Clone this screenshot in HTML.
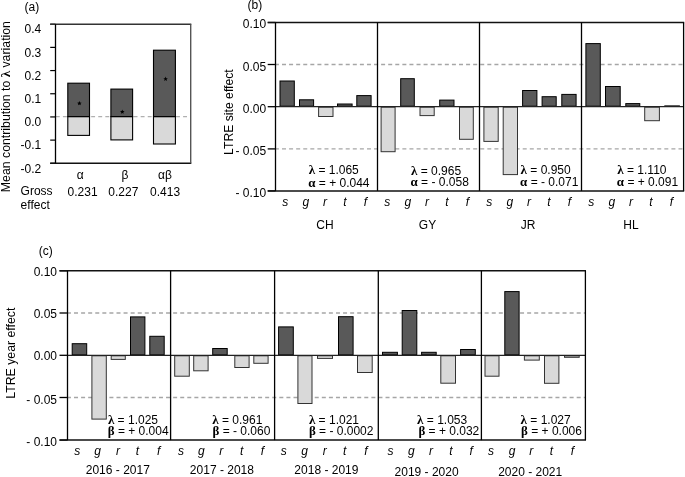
<!DOCTYPE html>
<html><head><meta charset="utf-8"><style>
html,body{margin:0;padding:0;background:#fff;}
svg{display:block;will-change:transform;}
text{font-family:"Liberation Sans", sans-serif;fill:#000;}
</style></head><body>
<svg width="685" height="477" viewBox="0 0 685 477">
<rect width="685" height="477" fill="#fff"/>
<text x="24.5" y="11" font-size="12" text-anchor="start" >(a)</text>
<line x1="50.2" y1="24.2" x2="55.5" y2="24.2" stroke="#000" stroke-width="1.2" />
<text x="41.2" y="33.4" font-size="12" text-anchor="end" >0.4</text>
<line x1="50.2" y1="47.38333333333334" x2="55.5" y2="47.38333333333334" stroke="#000" stroke-width="1.2" />
<text x="41.2" y="56.58333333333334" font-size="12" text-anchor="end" >0.3</text>
<line x1="50.2" y1="70.56666666666668" x2="55.5" y2="70.56666666666668" stroke="#000" stroke-width="1.2" />
<text x="41.2" y="79.76666666666668" font-size="12" text-anchor="end" >0.2</text>
<line x1="50.2" y1="93.75000000000001" x2="55.5" y2="93.75000000000001" stroke="#000" stroke-width="1.2" />
<text x="41.2" y="102.95000000000002" font-size="12" text-anchor="end" >0.1</text>
<line x1="50.2" y1="116.93333333333335" x2="55.5" y2="116.93333333333335" stroke="#000" stroke-width="1.2" />
<text x="41.2" y="126.13333333333335" font-size="12" text-anchor="end" >0.0</text>
<line x1="50.2" y1="140.11666666666667" x2="55.5" y2="140.11666666666667" stroke="#000" stroke-width="1.2" />
<text x="41.2" y="149.31666666666666" font-size="12" text-anchor="end" >-0.1</text>
<line x1="50.2" y1="163.3" x2="55.5" y2="163.3" stroke="#000" stroke-width="1.2" />
<text x="41.2" y="172.5" font-size="12" text-anchor="end" >-0.2</text>
<line x1="55.83" y1="116.6" x2="190.7" y2="116.6" stroke="#b0b0b0" stroke-width="1.4" stroke-dasharray="3.9,3.17"/>
<rect x="67.8" y="116.6" width="21.70" height="18.80" fill="#d9d9d9" stroke="#000" stroke-width="1.1"/>
<rect x="67.8" y="83.2" width="21.70" height="33.40" fill="#595959" stroke="#000" stroke-width="1.1"/>
<rect x="110.9" y="116.6" width="21.70" height="23.30" fill="#d9d9d9" stroke="#000" stroke-width="1.1"/>
<rect x="110.9" y="89.1" width="21.70" height="27.50" fill="#595959" stroke="#000" stroke-width="1.1"/>
<rect x="153.5" y="116.6" width="21.90" height="27.40" fill="#d9d9d9" stroke="#000" stroke-width="1.1"/>
<rect x="153.5" y="50.2" width="21.90" height="66.40" fill="#595959" stroke="#000" stroke-width="1.1"/>
<polygon points="79.40,101.00 80.03,102.53 81.68,102.66 80.43,103.73 80.81,105.34 79.40,104.48 77.99,105.34 78.37,103.73 77.12,102.66 78.77,102.53" fill="#000"/>
<polygon points="122.30,109.40 122.93,110.93 124.58,111.06 123.33,112.13 123.71,113.74 122.30,112.88 120.89,113.74 121.27,112.13 120.02,111.06 121.67,110.93" fill="#000"/>
<polygon points="165.60,76.60 166.23,78.13 167.88,78.26 166.63,79.33 167.01,80.94 165.60,80.08 164.19,80.94 164.57,79.33 163.32,78.26 164.97,78.13" fill="#000"/>
<line x1="50.2" y1="24.2" x2="191.29999999999998" y2="24.2" stroke="#333" stroke-width="1.6" />
<line x1="50.2" y1="163.3" x2="191.29999999999998" y2="163.3" stroke="#111" stroke-width="1.5" />
<line x1="55.5" y1="24.2" x2="55.5" y2="163.3" stroke="#000" stroke-width="1.3" />
<line x1="190.7" y1="24.2" x2="190.7" y2="163.3" stroke="#555" stroke-width="1.4" />
<text x="80.2" y="179.1" font-size="12" text-anchor="middle" >α</text>
<text x="125.0" y="179.1" font-size="12" text-anchor="middle" >β</text>
<text x="165.0" y="179.1" font-size="12" text-anchor="middle" >αβ</text>
<text x="20.6" y="195.0" font-size="12" text-anchor="start" >Gross</text>
<text x="20.6" y="209.3" font-size="12" text-anchor="start" >effect</text>
<text x="82.6" y="196.0" font-size="12" text-anchor="middle" >0.231</text>
<text x="123.3" y="196.0" font-size="12" text-anchor="middle" >0.227</text>
<text x="165.1" y="196.0" font-size="12" text-anchor="middle" >0.413</text>
<text transform="translate(10.1,106.6) rotate(-90)" font-size="12.3" text-anchor="middle">Mean contribution to <tspan font-family="Liberation Serif, serif" font-weight="bold" font-size="13">λ</tspan> variation</text>
<text x="247.5" y="9.2" font-size="12" text-anchor="start" >(b)</text>
<line x1="267.7" y1="22.5" x2="275.5" y2="22.5" stroke="#000" stroke-width="1.3" />
<text x="266.1" y="27.7" font-size="12" text-anchor="end" >0.10</text>
<line x1="267.7" y1="64.5" x2="275.5" y2="64.5" stroke="#000" stroke-width="1.3" />
<text x="266.1" y="70.6" font-size="12" text-anchor="end" >0.05</text>
<line x1="267.7" y1="106.7" x2="275.5" y2="106.7" stroke="#000" stroke-width="1.3" />
<text x="266.1" y="113.2" font-size="12" text-anchor="end" >0.00</text>
<line x1="267.7" y1="148.9" x2="275.5" y2="148.9" stroke="#000" stroke-width="1.3" />
<text x="266.1" y="155.20000000000002" font-size="12" text-anchor="end" >- 0.05</text>
<line x1="267.7" y1="190.9" x2="275.5" y2="190.9" stroke="#000" stroke-width="1.3" />
<text x="266.1" y="196.8" font-size="12" text-anchor="end" >- 0.10</text>
<line x1="274.92" y1="64.5" x2="683.6" y2="64.5" stroke="#a6a6a6" stroke-width="1.3" stroke-dasharray="4,3.08"/>
<line x1="274.92" y1="148.9" x2="683.6" y2="148.9" stroke="#a6a6a6" stroke-width="1.3" stroke-dasharray="4,3.08"/>
<rect x="280.00" y="81.00" width="14.30" height="25.20" fill="#595959" stroke="#000" stroke-width="1"/>
<rect x="299.50" y="99.80" width="14.10" height="6.40" fill="#595959" stroke="#000" stroke-width="1"/>
<rect x="318.60" y="107.20" width="14.40" height="9.30" fill="#d9d9d9" stroke="#333" stroke-width="1"/>
<rect x="337.50" y="104.00" width="14.60" height="2.20" fill="#595959" stroke="#000" stroke-width="1"/>
<rect x="356.80" y="95.60" width="14.30" height="10.60" fill="#595959" stroke="#000" stroke-width="1"/>
<rect x="381.10" y="107.20" width="14.00" height="44.50" fill="#d9d9d9" stroke="#333" stroke-width="1"/>
<rect x="400.70" y="78.70" width="13.60" height="27.50" fill="#595959" stroke="#000" stroke-width="1"/>
<rect x="420.00" y="107.20" width="14.20" height="8.40" fill="#d9d9d9" stroke="#333" stroke-width="1"/>
<rect x="439.70" y="100.10" width="14.30" height="6.10" fill="#595959" stroke="#000" stroke-width="1"/>
<rect x="459.50" y="107.20" width="13.80" height="32.10" fill="#d9d9d9" stroke="#333" stroke-width="1"/>
<rect x="483.90" y="107.20" width="14.30" height="34.20" fill="#d9d9d9" stroke="#333" stroke-width="1"/>
<rect x="503.20" y="107.20" width="14.30" height="67.40" fill="#d9d9d9" stroke="#333" stroke-width="1"/>
<rect x="522.60" y="90.50" width="14.30" height="15.70" fill="#595959" stroke="#000" stroke-width="1"/>
<rect x="542.10" y="96.70" width="14.10" height="9.50" fill="#595959" stroke="#000" stroke-width="1"/>
<rect x="561.80" y="94.40" width="14.30" height="11.80" fill="#595959" stroke="#000" stroke-width="1"/>
<rect x="585.90" y="43.60" width="14.40" height="62.60" fill="#595959" stroke="#000" stroke-width="1"/>
<rect x="605.50" y="86.50" width="14.70" height="19.70" fill="#595959" stroke="#000" stroke-width="1"/>
<rect x="625.80" y="103.60" width="14.00" height="2.60" fill="#595959" stroke="#000" stroke-width="1"/>
<rect x="644.70" y="107.20" width="14.70" height="13.50" fill="#d9d9d9" stroke="#333" stroke-width="1"/>
<rect x="664.80" y="105.90" width="14.60" height="0.30" fill="#595959" stroke="#000" stroke-width="1"/>
<line x1="275.5" y1="106.7" x2="683.6" y2="106.7" stroke="#222" stroke-width="1.3" />
<line x1="267.7" y1="22.5" x2="684.2" y2="22.5" stroke="#111" stroke-width="1.4" />
<line x1="267.7" y1="190.9" x2="684.2" y2="190.9" stroke="#111" stroke-width="1.5" />
<line x1="275.5" y1="22.5" x2="275.5" y2="190.9" stroke="#000" stroke-width="1.3" />
<line x1="377.5" y1="22.5" x2="377.5" y2="190.9" stroke="#000" stroke-width="1.3" />
<line x1="479.5" y1="22.5" x2="479.5" y2="190.9" stroke="#000" stroke-width="1.3" />
<line x1="581.5" y1="22.5" x2="581.5" y2="190.9" stroke="#000" stroke-width="1.3" />
<line x1="683.6" y1="22.5" x2="683.6" y2="190.9" stroke="#000" stroke-width="1.3" />
<text transform="translate(233,112.1) rotate(-90)" font-size="12.2" text-anchor="middle">LTRE site effect</text>
<text id="bl308.7" x="308.7" y="174.1" font-size="12"><tspan font-family="Liberation Serif, serif" font-weight="bold" font-size="13">λ</tspan> = 1.065</text>
<text id="ba308.7" x="308.2" y="187.0" font-size="12"><tspan font-family="Liberation Serif, serif" font-weight="bold" font-size="13">α</tspan> = + 0.044</text>
<text id="bl411.0" x="411.0" y="174.5" font-size="12"><tspan font-family="Liberation Serif, serif" font-weight="bold" font-size="13">λ</tspan> = 0.965</text>
<text id="ba411.0" x="410.5" y="186.4" font-size="12"><tspan font-family="Liberation Serif, serif" font-weight="bold" font-size="13">α</tspan> = - 0.058</text>
<text id="bl520.6" x="520.6" y="173.6" font-size="12"><tspan font-family="Liberation Serif, serif" font-weight="bold" font-size="13">λ</tspan> = 0.950</text>
<text id="ba520.6" x="520.1" y="185.6" font-size="12"><tspan font-family="Liberation Serif, serif" font-weight="bold" font-size="13">α</tspan> = - 0.071</text>
<text id="bl617.3" x="617.3" y="173.6" font-size="12"><tspan font-family="Liberation Serif, serif" font-weight="bold" font-size="13">λ</tspan> = 1.110</text>
<text id="ba617.3" x="616.8" y="186.1" font-size="12"><tspan font-family="Liberation Serif, serif" font-weight="bold" font-size="13">α</tspan> = + 0.091</text>
<text x="285.25" y="205.8" font-size="12" text-anchor="middle" font-style="italic">s</text>
<text x="305.8" y="205.8" font-size="12" text-anchor="middle" font-style="italic">g</text>
<text x="324.9" y="205.8" font-size="12" text-anchor="middle" font-style="italic">r</text>
<text x="344.9" y="205.8" font-size="12" text-anchor="middle" font-style="italic">t</text>
<text x="365.5" y="205.8" font-size="12" text-anchor="middle" font-style="italic">f</text>
<text x="387.25" y="205.8" font-size="12" text-anchor="middle" font-style="italic">s</text>
<text x="407.8" y="205.8" font-size="12" text-anchor="middle" font-style="italic">g</text>
<text x="426.9" y="205.8" font-size="12" text-anchor="middle" font-style="italic">r</text>
<text x="446.9" y="205.8" font-size="12" text-anchor="middle" font-style="italic">t</text>
<text x="467.5" y="205.8" font-size="12" text-anchor="middle" font-style="italic">f</text>
<text x="489.25" y="205.8" font-size="12" text-anchor="middle" font-style="italic">s</text>
<text x="509.8" y="205.8" font-size="12" text-anchor="middle" font-style="italic">g</text>
<text x="528.9" y="205.8" font-size="12" text-anchor="middle" font-style="italic">r</text>
<text x="548.9" y="205.8" font-size="12" text-anchor="middle" font-style="italic">t</text>
<text x="569.5" y="205.8" font-size="12" text-anchor="middle" font-style="italic">f</text>
<text x="591.25" y="205.8" font-size="12" text-anchor="middle" font-style="italic">s</text>
<text x="611.8" y="205.8" font-size="12" text-anchor="middle" font-style="italic">g</text>
<text x="630.9" y="205.8" font-size="12" text-anchor="middle" font-style="italic">r</text>
<text x="650.9" y="205.8" font-size="12" text-anchor="middle" font-style="italic">t</text>
<text x="671.5" y="205.8" font-size="12" text-anchor="middle" font-style="italic">f</text>
<text x="325" y="229.2" font-size="12" text-anchor="middle" >CH</text>
<text x="427.5" y="229.2" font-size="12" text-anchor="middle" >GY</text>
<text x="528" y="229.2" font-size="12" text-anchor="middle" >JR</text>
<text x="630.9" y="229.2" font-size="12" text-anchor="middle" >HL</text>
<text x="38.7" y="255" font-size="12" text-anchor="start" >(c)</text>
<line x1="59.5" y1="270.8" x2="67.5" y2="270.8" stroke="#000" stroke-width="1.3" />
<text x="57.0" y="276.2" font-size="12" text-anchor="end" >0.10</text>
<line x1="59.5" y1="313.0" x2="67.5" y2="313.0" stroke="#000" stroke-width="1.3" />
<text x="57.0" y="318.4" font-size="12" text-anchor="end" >0.05</text>
<line x1="59.5" y1="355.3" x2="67.5" y2="355.3" stroke="#000" stroke-width="1.3" />
<text x="57.0" y="359.8" font-size="12" text-anchor="end" >0.00</text>
<line x1="59.5" y1="397.5" x2="67.5" y2="397.5" stroke="#000" stroke-width="1.3" />
<text x="57.0" y="404.0" font-size="12" text-anchor="end" >- 0.05</text>
<line x1="59.5" y1="440.1" x2="67.5" y2="440.1" stroke="#000" stroke-width="1.3" />
<text x="57.0" y="445.5" font-size="12" text-anchor="end" >- 0.10</text>
<line x1="66.93" y1="313.0" x2="585.4" y2="313.0" stroke="#a6a6a6" stroke-width="1.3" stroke-dasharray="4,3.08"/>
<line x1="66.93" y1="397.5" x2="585.4" y2="397.5" stroke="#a6a6a6" stroke-width="1.3" stroke-dasharray="4,3.08"/>
<rect x="72.20" y="343.70" width="14.50" height="11.10" fill="#595959" stroke="#000" stroke-width="1"/>
<rect x="91.90" y="355.80" width="14.40" height="63.30" fill="#d9d9d9" stroke="#333" stroke-width="1"/>
<rect x="111.20" y="355.80" width="14.10" height="3.60" fill="#d9d9d9" stroke="#333" stroke-width="1"/>
<rect x="130.50" y="316.90" width="14.40" height="37.90" fill="#595959" stroke="#000" stroke-width="1"/>
<rect x="149.80" y="336.30" width="14.40" height="18.50" fill="#595959" stroke="#000" stroke-width="1"/>
<rect x="174.70" y="355.80" width="14.60" height="20.40" fill="#d9d9d9" stroke="#333" stroke-width="1"/>
<rect x="193.70" y="355.80" width="14.40" height="15.00" fill="#d9d9d9" stroke="#333" stroke-width="1"/>
<rect x="212.70" y="348.50" width="14.50" height="6.30" fill="#595959" stroke="#000" stroke-width="1"/>
<rect x="234.80" y="355.80" width="14.30" height="11.70" fill="#d9d9d9" stroke="#333" stroke-width="1"/>
<rect x="253.80" y="355.80" width="14.30" height="7.50" fill="#d9d9d9" stroke="#333" stroke-width="1"/>
<rect x="278.60" y="326.90" width="14.70" height="27.90" fill="#595959" stroke="#000" stroke-width="1"/>
<rect x="297.90" y="355.80" width="14.10" height="47.70" fill="#d9d9d9" stroke="#333" stroke-width="1"/>
<rect x="317.50" y="355.80" width="15.00" height="2.60" fill="#d9d9d9" stroke="#333" stroke-width="1"/>
<rect x="338.50" y="316.70" width="14.60" height="38.10" fill="#595959" stroke="#000" stroke-width="1"/>
<rect x="357.50" y="355.80" width="14.70" height="16.70" fill="#d9d9d9" stroke="#333" stroke-width="1"/>
<rect x="382.50" y="352.30" width="14.90" height="2.50" fill="#595959" stroke="#000" stroke-width="1"/>
<rect x="402.20" y="310.50" width="14.60" height="44.30" fill="#595959" stroke="#000" stroke-width="1"/>
<rect x="421.60" y="352.30" width="14.60" height="2.50" fill="#595959" stroke="#000" stroke-width="1"/>
<rect x="440.80" y="355.80" width="14.70" height="27.40" fill="#d9d9d9" stroke="#333" stroke-width="1"/>
<rect x="460.60" y="349.50" width="14.70" height="5.30" fill="#595959" stroke="#000" stroke-width="1"/>
<rect x="485.00" y="355.80" width="14.00" height="20.40" fill="#d9d9d9" stroke="#333" stroke-width="1"/>
<rect x="504.80" y="291.60" width="14.30" height="63.20" fill="#595959" stroke="#000" stroke-width="1"/>
<rect x="524.40" y="355.80" width="14.90" height="4.30" fill="#d9d9d9" stroke="#333" stroke-width="1"/>
<rect x="544.50" y="355.80" width="14.40" height="27.50" fill="#d9d9d9" stroke="#333" stroke-width="1"/>
<rect x="564.50" y="355.80" width="14.70" height="1.50" fill="#d9d9d9" stroke="#333" stroke-width="1"/>
<line x1="67.5" y1="355.3" x2="585.4" y2="355.3" stroke="#222" stroke-width="1.3" />
<line x1="59.5" y1="270.8" x2="586.0" y2="270.8" stroke="#111" stroke-width="1.4" />
<line x1="59.5" y1="440.1" x2="586.0" y2="440.1" stroke="#111" stroke-width="1.5" />
<line x1="67.5" y1="270.8" x2="67.5" y2="440.1" stroke="#000" stroke-width="1.3" />
<line x1="170.6" y1="270.8" x2="170.6" y2="440.1" stroke="#000" stroke-width="1.3" />
<line x1="274.6" y1="270.8" x2="274.6" y2="440.1" stroke="#000" stroke-width="1.3" />
<line x1="378.3" y1="270.8" x2="378.3" y2="440.1" stroke="#000" stroke-width="1.3" />
<line x1="481.4" y1="270.8" x2="481.4" y2="440.1" stroke="#000" stroke-width="1.3" />
<line x1="585.4" y1="270.8" x2="585.4" y2="440.1" stroke="#000" stroke-width="1.3" />
<text transform="translate(15.2,353.2) rotate(-90)" font-size="12.3" text-anchor="middle">LTRE year effect</text>
<text id="cl107.9" x="107.9" y="423.6" font-size="12"><tspan font-family="Liberation Serif, serif" font-weight="bold" font-size="13">λ</tspan> = 1.025</text>
<text id="cb107.9" x="107.7" y="434.6" font-size="12"><tspan font-family="Liberation Serif, serif" font-weight="bold" font-size="13">β</tspan> = + 0.004</text>
<text id="cl212.3" x="212.3" y="423.6" font-size="12"><tspan font-family="Liberation Serif, serif" font-weight="bold" font-size="13">λ</tspan> = 0.961</text>
<text id="cb212.3" x="212.5" y="434.6" font-size="12"><tspan font-family="Liberation Serif, serif" font-weight="bold" font-size="13">β</tspan> = - 0.060</text>
<text id="cl308.9" x="308.9" y="423.6" font-size="12"><tspan font-family="Liberation Serif, serif" font-weight="bold" font-size="13">λ</tspan> = 1.021</text>
<text id="cb308.9" x="308.9" y="434.6" font-size="12"><tspan font-family="Liberation Serif, serif" font-weight="bold" font-size="13">β</tspan> = - 0.0002</text>
<text id="cl417.1" x="417.1" y="423.6" font-size="12"><tspan font-family="Liberation Serif, serif" font-weight="bold" font-size="13">λ</tspan> = 1.053</text>
<text id="cb417.1" x="418.4" y="434.6" font-size="12"><tspan font-family="Liberation Serif, serif" font-weight="bold" font-size="13">β</tspan> = + 0.032</text>
<text id="cl520.6" x="520.6" y="423.6" font-size="12"><tspan font-family="Liberation Serif, serif" font-weight="bold" font-size="13">λ</tspan> = 1.027</text>
<text id="cb520.6" x="521.0" y="434.6" font-size="12"><tspan font-family="Liberation Serif, serif" font-weight="bold" font-size="13">β</tspan> = + 0.006</text>
<text x="77.3" y="454.8" font-size="12" text-anchor="middle" font-style="italic">s</text>
<text x="97.6" y="454.8" font-size="12" text-anchor="middle" font-style="italic">g</text>
<text x="118" y="454.8" font-size="12" text-anchor="middle" font-style="italic">r</text>
<text x="137.3" y="454.8" font-size="12" text-anchor="middle" font-style="italic">t</text>
<text x="158.6" y="454.8" font-size="12" text-anchor="middle" font-style="italic">f</text>
<text x="181" y="454.8" font-size="12" text-anchor="middle" font-style="italic">s</text>
<text x="201.3" y="454.8" font-size="12" text-anchor="middle" font-style="italic">g</text>
<text x="221.3" y="454.8" font-size="12" text-anchor="middle" font-style="italic">r</text>
<text x="241.6" y="454.8" font-size="12" text-anchor="middle" font-style="italic">t</text>
<text x="262.3" y="454.8" font-size="12" text-anchor="middle" font-style="italic">f</text>
<text x="283.7" y="454.8" font-size="12" text-anchor="middle" font-style="italic">s</text>
<text x="304.7" y="454.8" font-size="12" text-anchor="middle" font-style="italic">g</text>
<text x="324.7" y="454.8" font-size="12" text-anchor="middle" font-style="italic">r</text>
<text x="344.7" y="454.8" font-size="12" text-anchor="middle" font-style="italic">t</text>
<text x="366" y="454.8" font-size="12" text-anchor="middle" font-style="italic">f</text>
<text x="390.5" y="454.8" font-size="12" text-anchor="middle" font-style="italic">s</text>
<text x="411.4" y="454.8" font-size="12" text-anchor="middle" font-style="italic">g</text>
<text x="431.1" y="454.8" font-size="12" text-anchor="middle" font-style="italic">r</text>
<text x="450.8" y="454.8" font-size="12" text-anchor="middle" font-style="italic">t</text>
<text x="471.2" y="454.8" font-size="12" text-anchor="middle" font-style="italic">f</text>
<text x="490.9" y="454.8" font-size="12" text-anchor="middle" font-style="italic">s</text>
<text x="512" y="454.8" font-size="12" text-anchor="middle" font-style="italic">g</text>
<text x="531.2" y="454.8" font-size="12" text-anchor="middle" font-style="italic">r</text>
<text x="551.3" y="454.8" font-size="12" text-anchor="middle" font-style="italic">t</text>
<text x="572.5" y="454.8" font-size="12" text-anchor="middle" font-style="italic">f</text>
<text x="117.8" y="474" font-size="12" text-anchor="middle" >2016 - 2017</text>
<text x="221.9" y="474" font-size="12" text-anchor="middle" >2017 - 2018</text>
<text x="326.4" y="474" font-size="12" text-anchor="middle" >2018 - 2019</text>
<text x="426.6" y="475.7" font-size="12" text-anchor="middle" >2019 - 2020</text>
<text x="530.2" y="475.7" font-size="12" text-anchor="middle" >2020 - 2021</text>
</svg>
</body></html>
